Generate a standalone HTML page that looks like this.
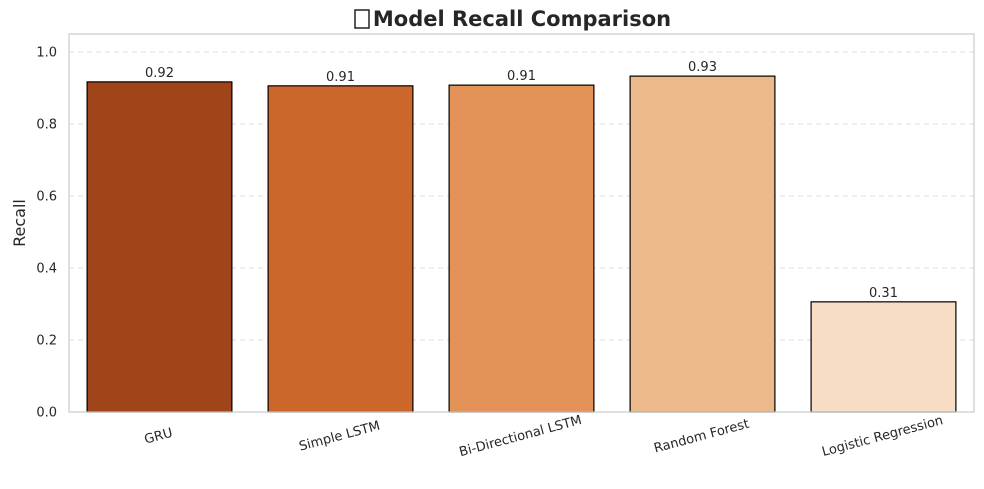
<!DOCTYPE html>
<html><head><meta charset="utf-8"><style>
body{margin:0;background:#fff;width:984px;height:484px;overflow:hidden;font-family:"Liberation Sans","DejaVu Sans",sans-serif}
</style></head><body>
<svg width="984" height="484" xmlns="http://www.w3.org/2000/svg">
<g id="title">
<rect x="355" y="10" width="14" height="18" fill="none" stroke="#222" stroke-width="1.5"/>
<text x="522" y="26" text-anchor="middle" font-size="21" font-weight="bold" fill="#262626" font-family="DejaVu Sans, sans-serif">Model Recall Comparison</text>
</g>
<g id="grid"></g>
<g id="bars"></g>
<g id="labels"></g>
<rect x="69" y="34" width="905" height="378" fill="none" stroke="#cccccc" stroke-width="1.2"/>
<text x="25" y="223" transform="rotate(-90 25 223)" text-anchor="middle" font-size="16" fill="#262626" font-family="DejaVu Sans, sans-serif">Recall</text>
</svg>
<script>
const categories=["GRU","Simple LSTM","Bi-Directional LSTM","Random Forest","Logistic Regression"];
const recallValues=[0.917,0.906,0.908,0.933,0.306];
const valueLabels=["0.92","0.91","0.91","0.93","0.31"];
const barColors=["#a0441a","#cc672b","#e49358","#ecb98c","#f7dcc6"];
const yTicks=[0,0.2,0.4,0.6,0.8,1.0];
const yTickLabels=["0.0","0.2","0.4","0.6","0.8","1.0"];
const NS="http://www.w3.org/2000/svg";
const L=69,R=974,T=34,B=412,YMAX=1.05;
const y=v=>B-(v/YMAX)*(B-T);
const band=(R-L)/categories.length;
const x=i=>L+band*i+band*0.1;
const bw=band*0.8;
function mk(t,a,p){const e=document.createElementNS(NS,t);for(const k in a)e.setAttribute(k,a[k]);p.appendChild(e);return e;}
const g=document.getElementById('grid'),bg=document.getElementById('bars'),lg=document.getElementById('labels');
yTicks.forEach((t,i)=>{
 const ln=mk('line',{x1:L,x2:R,y1:y(t),y2:y(t),stroke:'#dddddd','stroke-dasharray':'5,4','stroke-width':1},g);
 
 
 const tx=mk('text',{x:L-12,y:y(t)+4.5,'text-anchor':'end','font-size':13,fill:'#262626','font-family':'DejaVu Sans, sans-serif'},g);
 tx.textContent=yTickLabels[i];
 
 
});
categories.forEach((c,i)=>{
 const r=mk('rect',{x:x(i),y:y(recallValues[i]),width:bw,height:B-y(recallValues[i]),fill:barColors[i],stroke:'#000','stroke-width':1.2},bg);
 
 
 const v=mk('text',{x:x(i)+bw/2,y:y(recallValues[i])-5,'text-anchor':'middle','font-size':13,fill:'#262626','font-family':'DejaVu Sans, sans-serif'},lg);
 v.textContent=valueLabels[i];
 
 
 const cx=x(i)+bw/2, cy=B+28;
 const t=mk('text',{x:cx,y:cy,'text-anchor':'middle','font-size':13,fill:'#262626','font-family':'DejaVu Sans, sans-serif',transform:`rotate(-15 ${cx} ${cy})`},lg);
 t.textContent=c;
 
 
});
</script>
</body></html>
